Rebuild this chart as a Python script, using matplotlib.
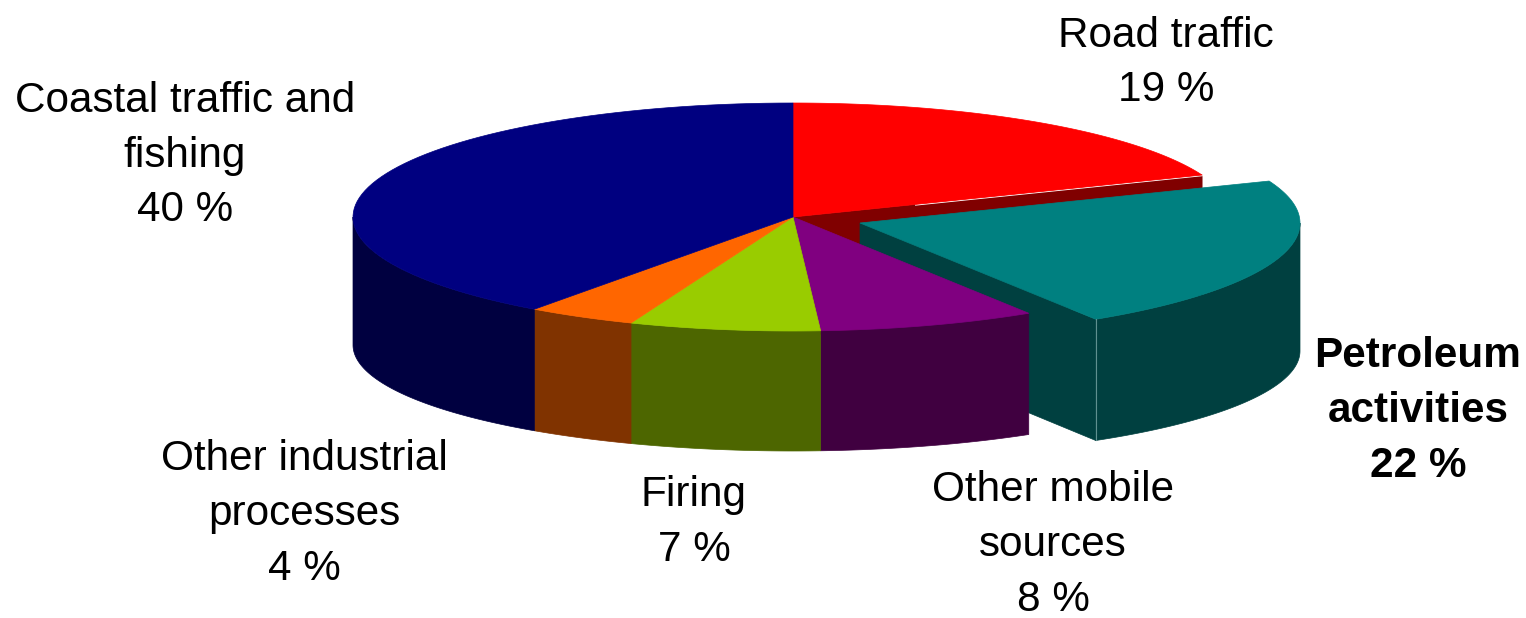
import numpy as np
import matplotlib
matplotlib.use("Agg")
import matplotlib.pyplot as plt

categories = ["Road traffic", "Petroleum\nactivities", "Other mobile\nsources", "Firing",
              "Other industrial\nprocesses", "Coastal traffic and\nfishing"]
values = [19, 22, 8, 7, 4, 40]
top_colors = ["#FF0000", "#008080", "#800080", "#99CC00", "#FF6600", "#000080"]
side_colors = ["#800000", "#004040", "#400040", "#4D6600", "#803300", "#000040"]
label_pos = [(1166, 63), (1418, 411), (1053, 545), (694, 522.5), (304, 514), (185, 155.5)]
exploded = [0, 1, 0, 0, 0, 0]

W, H = 1526, 618
CX, CY, RX, RY = 793, 217, 440, 114
BOTTOM_DY, BOTTOM_RY = 128, 106   # the base ellipse is flatter and lower (perspective)
EXPLODE_DX, EXPLODE_DY = 67, 6

plt.rcParams["font.family"] = ["Liberation Sans", "DejaVu Sans"]
fig = plt.figure(figsize=(W / 100, H / 100), dpi=100)
ax = fig.add_axes([0, 0, 1, 1])
ax.set_xlim(0, W)
ax.set_ylim(H, 0)
ax.axis("off")


def arc(a0, a1, cx, cy, n=80):
    t = np.radians(np.linspace(a0, a1, n))
    return cx + RX * np.sin(t), cy - RY * np.cos(t)


def base(a0, a1, cx, cy, n=80):
    t = np.radians(np.linspace(a0, a1, n))
    return cx + RX * np.sin(t), cy + BOTTOM_DY - BOTTOM_RY * np.cos(t)


def fill(x, y, c, z):
    ax.fill(x, y, facecolor=c, edgecolor=c, linewidth=0.5, zorder=z)


edges = np.concatenate([[0], np.cumsum(values)]) * 3.6
starts, ends = edges[:-1], edges[1:]

# Cut wall of the red slice, seen through the gap left by the exploded slice
xe, ye = arc(ends[0], ends[0], CX, CY, 1)
fill([CX, xe[0], xe[0], CX], [CY, ye[0], ye[0] + 120, CY + 120], side_colors[0], 1)

for i in np.argsort([-e for e in exploded]):
    cx = CX + EXPLODE_DX * exploded[i]
    cy = CY + EXPLODE_DY * exploded[i]
    a0, a1 = starts[i], ends[i]
    z = 2 if exploded[i] else 3
    if exploded[i]:
        x1, y1 = arc(a1, a1, cx, cy, 1)
        xb, yb = base(a1, a1, cx, cy, 1)
        fill([cx, x1[0], x1[0], cx], [cy, y1[0], yb[0], cy + 120], side_colors[i], z)
    # outer wall: the part of the rim on the near side (90..270 degrees)
    lo, hi = max(a0, 90), min(a1, 270)
    if hi > lo:
        xa, ya = arc(lo, hi, cx, cy)
        xb, yb = base(lo, hi, cx, cy)
        fill(np.r_[xa, xb[::-1]], np.r_[ya, yb[::-1]], side_colors[i], z)
    xa, ya = arc(a0, a1, cx, cy)
    fill(np.r_[cx, xa], np.r_[cy, ya], top_colors[i], z + 0.5)
    if exploded[i]:
        x1, y1 = arc(a1, a1, cx, cy, 1)
        xb, yb = base(a1, a1, cx, cy, 1)
        ax.plot([x1[0], x1[0]], [y1[0], yb[0]], color="#5F9090", lw=0.8, zorder=z + 0.6)

# Thin white seam under the red slice's cut edge
xe, ye = arc(ends[0], ends[0], CX, CY, 1)
ax.plot([CX + 0.3 * (xe[0] - CX), xe[0]], [CY + 0.3 * (ye[0] - CY) + 0.5, ye[0] + 0.5],
        color="white", lw=1.0, zorder=1.5)

for name, v, (lx, ly), ex in zip(categories, values, label_pos, exploded):
    ax.text(lx, ly, f"{name}\n{v} %", ha="center", va="center", fontsize=30.4,
            color="black", linespacing=1.48, fontweight="bold" if ex else "normal")

fig.savefig("out.png", dpi=100)
